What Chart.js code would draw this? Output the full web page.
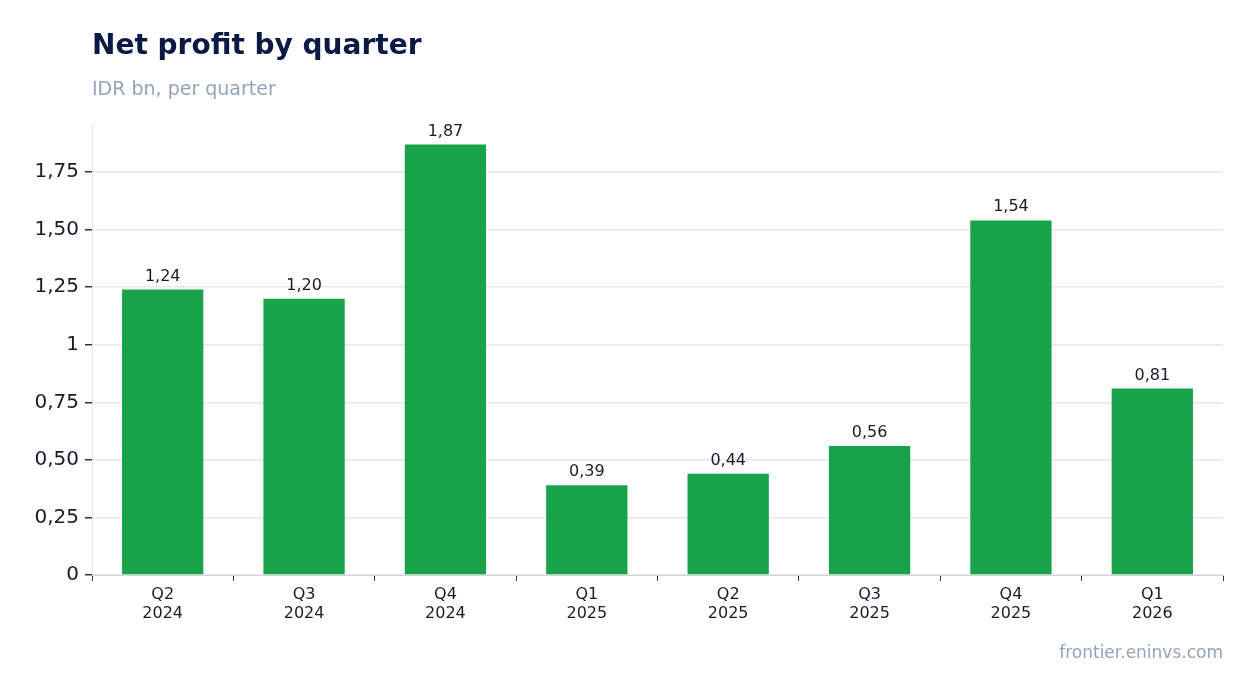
<!DOCTYPE html>
<html><head><meta charset="utf-8">
<script src="https://cdn.jsdelivr.net/npm/chart.js@4/dist/chart.umd.min.js"></script>
<style>html,body{margin:0;padding:0;background:#fff}#w{width:1254px;height:693px;position:relative}</style>
</head><body><div id="w"><canvas id="c"></canvas></div>
<script>
const quarters = [["Q2","2024"],["Q3","2024"],["Q4","2024"],["Q1","2025"],["Q2","2025"],["Q3","2025"],["Q4","2025"],["Q1","2026"]];
const netProfit = [1.24, 1.20, 1.87, 0.39, 0.44, 0.56, 1.54, 0.81];
const titleText = "Net profit by quarter";
const subtitleText = "IDR bn, per quarter";
const sourceText = "frontier.eninvs.com";
const FONT = "'DejaVu Sans', sans-serif";
const fmt = v => v.toFixed(2).replace('.', ',');

const deco = {
  id: 'deco',
  afterDraw(chart) {
    const ctx = chart.ctx;
    ctx.save();
    ctx.textBaseline = 'alphabetic';
    ctx.fillStyle = '#0b1a45';
    ctx.font = "bold 28px " + FONT;
    ctx.textAlign = 'left';
    ctx.fillText(titleText, 92, 54);
    ctx.fillStyle = '#94a3b8';
    ctx.font = "19px " + FONT;
    ctx.fillText(subtitleText, 92, 95);
    ctx.font = "17px " + FONT;
    ctx.textAlign = 'right';
    ctx.fillText(sourceText, 1223, 658);
    // data labels
    const meta = chart.getDatasetMeta(0);
    ctx.fillStyle = '#1a1a2e';
    ctx.font = "16px " + FONT;
    ctx.textAlign = 'center';
    meta.data.forEach((bar, i) => {
      ctx.fillText(fmt(netProfit[i]), bar.x, bar.y - 9);
    });
    ctx.restore();
  }
};

new Chart(document.getElementById('c'), {
  type: 'bar',
  data: { labels: quarters, datasets: [{ data: netProfit, backgroundColor: '#18a34a', barPercentage: 0.575, categoryPercentage: 1 }] },
  options: {
    responsive: true, maintainAspectRatio: false, animation: false,
    layout: { padding: { top: 123, right: 31, bottom: 0, left: 0 } },
    plugins: { legend: { display: false }, tooltip: { enabled: false } },
    scales: {
      x: {
        grid: { display: true, drawOnChartArea: false, drawTicks: true, tickLength: 6, color: '#333' },
        border: { color: '#d1d5db' },
        ticks: { color: '#1a1a2e', font: { family: FONT, size: 16 }, padding: 4 },
        afterFit(s) { s.height = 118; }
      },
      y: {
        min: 0, max: 1.9635,
        afterBuildTicks(s) { s.ticks = [0,0.25,0.5,0.75,1,1.25,1.5,1.75].map(v => ({ value: v })); },
        grid: { color: '#e5e7eb', lineWidth: 1.5, tickColor: '#333', tickLength: 7 },
        border: { color: '#e5e7eb' },
        ticks: { color: '#1a1a2e', font: { family: FONT, size: 20 }, padding: 6,
          callback: v => (v === 0 ? '0' : v === 1 ? '1' : fmt(v)) },
        afterFit(s) { s.width = 92; }
      }
    }
  },
  plugins: [deco]
});
</script></body></html>
